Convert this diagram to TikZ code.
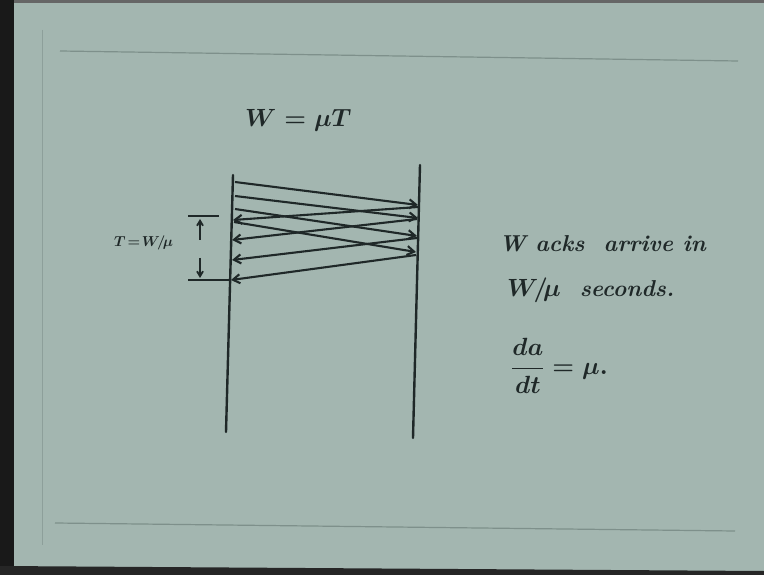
\documentclass[tikz,border=0pt]{standalone}
\usepackage{amsmath}
\usetikzlibrary{arrows.meta}
\AtBeginDocument{\mathversion{bold}}
\definecolor{slide}{HTML}{A3B6B0}
\definecolor{ink}{HTML}{1F2828}
\definecolor{rule}{HTML}{7E908B}
\tikzset{
  timeline/.style={draw=ink, line width=2.4pt, line cap=round},
  msg/.style={draw=ink, line width=2.1pt, -{Straight Barb[length=7pt,width=9pt]}},
  tick/.style={draw=ink, line width=1.8pt},
  hand/.style={text=ink, inner sep=0pt, font=\fontsize{23}{25}\selectfont\bfseries\itshape},
  small/.style={font=\fontsize{15}{17}\selectfont\bfseries\itshape},
  framerule/.style={draw=rule, line width=1.2pt}
}
\begin{document}
\begin{tikzpicture}[x=1pt,y=-1pt]
  % background and frame
  \fill[slide] (0,0) rectangle (764,575);
  \useasboundingbox (0,0) rectangle (764,575);
  \fill[black!90] (0,0) rectangle (14,575);
  \fill[black!85] (0,566) -- (764,571) -- (764,575) -- (0,575) -- cycle;
  \fill[black!60] (14,0) rectangle (764,3);
  \draw[framerule] (60,51) -- (738,61);
  \draw[framerule] (55,523) -- (735,531);
  \draw[rule!60!slide, line width=0.6pt] (42,30) -- (42,545);

  % timelines
  \coordinate (Ltop) at (233,175);
  \coordinate (Lbot) at (226,432);
  \coordinate (Rtop) at (420,165);
  \coordinate (Rbot) at (413,438);
  \draw[timeline] (Ltop) -- (Lbot);
  \draw[timeline] (Rtop) -- (Rbot);

  % data packets (left to right)
  \coordinate (s1) at (235,182); \coordinate (e1) at (418,205);
  \coordinate (s2) at (235,196); \coordinate (e2) at (418,218);
  \coordinate (s3) at (235,209); \coordinate (e3) at (417,236);
  \coordinate (s4) at (234,222); \coordinate (e4) at (416,252);
  \draw[msg] (s1) -- (e1);
  \draw[msg] (s2) -- (e2);
  \draw[msg] (s3) -- (e3);
  \draw[msg] (s4) -- (e4);

  % acks (right to left)
  \coordinate (a1) at (418,207); \coordinate (b1) at (233,220);
  \coordinate (a2) at (417,219); \coordinate (b2) at (232,240);
  \coordinate (a3) at (417,238); \coordinate (b3) at (232,260);
  \coordinate (a4) at (416,255); \coordinate (b4) at (231,280);
  \draw[msg] (a1) -- (b1);
  \draw[msg] (a2) -- (b2);
  \draw[msg] (a3) -- (b3);
  \draw[msg] (a4) -- (b4);

  % T interval marker
  \coordinate (t1) at (188,216); \coordinate (t2) at (219,216);
  \coordinate (u1) at (188,280); \coordinate (u2) at (230,280);
  \coordinate (up0) at (200,240); \coordinate (up1) at (200,219);
  \coordinate (dn0) at (200,258); \coordinate (dn1) at (200,278);
  \draw[tick] (t1) -- (t2);
  \draw[tick] (u1) -- (u2);
  \draw[tick, -{Straight Barb[length=5pt,width=6pt]}] (up0) -- (up1);
  \draw[tick, -{Straight Barb[length=5pt,width=6pt]}] (dn0) -- (dn1);

  % texts
  \node[text=ink, inner sep=0pt, small, anchor=west] (Tlab) at (114,243) {$T\!=\!W\!/\!\mu$};
  \node[hand, anchor=west] (eq) at (245,120) {$W = \mu T$};
  \node[hand, anchor=west] (l1) at (499,244) {W acks\ \ arrive in};
  \node[hand, anchor=west] (l2) at (507,290) {$W\!/\!\mu$\ \ seconds.};
  \node[hand, anchor=west] (l3) at (511,366) {$\dfrac{da}{dt} = \mu.$};
\end{tikzpicture}
\end{document}
